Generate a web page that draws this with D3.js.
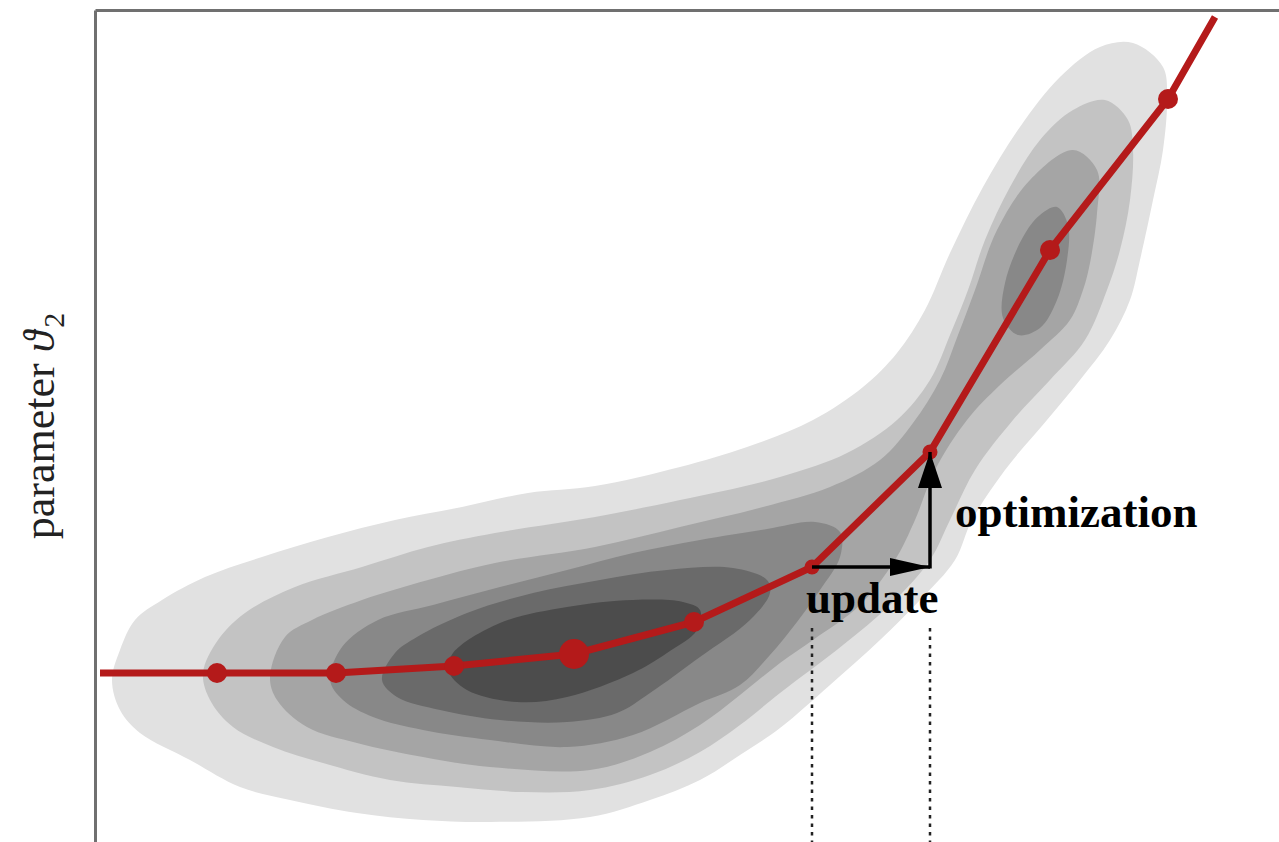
<!DOCTYPE html>
<html>
<head>
<meta charset="utf-8">
<script src="https://cdn.jsdelivr.net/npm/d3@7"></script>
<style>
  body { margin: 0; background: #fff; }
  svg { display: block; }
</style>
</head>
<body>
<div id="chart"></div>
<script>
// canvas size
const width = 1279;
const height = 842;

// parameter ranges visible in the picture
const theta1Range = [0, 11.84];
const theta2Range = [0, 8.32];

// filled contour outlines, [theta1, theta2], outer level first
const level1Outline = [
  [0.17, 1.62], [0.25, 1.92], [0.40, 2.22], [0.67, 2.42], [1.10, 2.65], [1.67, 2.85],
  [2.33, 3.05], [3.00, 3.22], [3.67, 3.35], [4.33, 3.49], [5.00, 3.56], [5.85, 3.75],
  [6.52, 3.95], [7.18, 4.22], [7.68, 4.55], [8.02, 4.89], [8.30, 5.32], [8.55, 5.89],
  [8.88, 6.55], [9.25, 7.15], [9.65, 7.65], [10.05, 7.95], [10.38, 7.99], [10.68, 7.75],
  [10.72, 7.42], [10.68, 6.92], [10.58, 6.42], [10.45, 5.82], [10.35, 5.42], [10.15, 5.02],
  [9.85, 4.62], [9.52, 4.22], [9.10, 3.72], [8.77, 3.22], [8.60, 2.82], [8.25, 2.42],
  [7.85, 2.02], [7.35, 1.57], [6.85, 1.14], [6.45, 0.87], [6.05, 0.62], [5.55, 0.42],
  [4.95, 0.25], [3.95, 0.20], [3.28, 0.22], [2.62, 0.29], [1.95, 0.42], [1.45, 0.55],
  [0.95, 0.82], [0.45, 1.09], [0.25, 1.32]
];
const level2Outline = [
  [1.08, 1.69], [1.23, 2.02], [1.50, 2.29], [2.00, 2.55], [2.67, 2.75], [3.33, 2.95],
  [4.00, 3.09], [5.00, 3.25], [5.85, 3.42], [6.85, 3.65], [7.52, 3.89], [8.02, 4.22],
  [8.35, 4.62], [8.55, 5.07], [8.73, 5.52], [8.90, 6.02], [9.15, 6.55], [9.45, 7.02],
  [9.78, 7.32], [10.10, 7.42], [10.33, 7.22], [10.38, 6.92], [10.35, 6.42], [10.25, 5.92],
  [10.12, 5.52], [9.90, 5.02], [9.55, 4.62], [9.18, 4.22], [8.80, 3.72], [8.55, 3.22],
  [8.35, 2.82], [7.95, 2.37], [7.48, 1.97], [6.85, 1.49], [6.45, 1.17], [6.05, 0.90],
  [5.55, 0.67], [4.95, 0.52], [4.28, 0.50], [3.62, 0.55], [2.95, 0.62], [2.28, 0.79],
  [1.78, 0.95], [1.38, 1.15], [1.15, 1.42]
];
const level3Outline = [
  [1.75, 1.65], [1.90, 2.05], [2.17, 2.22], [2.67, 2.42], [3.33, 2.62], [4.00, 2.79],
  [5.00, 2.95], [5.85, 3.15], [6.68, 3.35], [7.35, 3.55], [7.85, 3.82], [8.18, 4.19],
  [8.45, 4.62], [8.63, 5.07], [8.80, 5.52], [9.02, 6.12], [9.35, 6.62], [9.78, 6.92],
  [10.02, 6.72], [10.02, 6.29], [9.95, 5.79], [9.88, 5.52], [9.75, 5.22], [9.45, 4.92],
  [9.05, 4.57], [8.72, 4.22], [8.40, 3.72], [8.20, 3.22], [8.00, 2.82], [7.65, 2.37],
  [7.18, 2.02], [6.85, 1.79], [6.45, 1.47], [6.05, 1.17], [5.55, 0.90], [4.95, 0.72],
  [3.95, 0.75], [3.28, 0.85], [2.62, 0.99], [2.12, 1.15], [1.82, 1.42]
];
const level4Outline = [
  [2.35, 1.62], [2.47, 1.95], [2.83, 2.22], [3.38, 2.37], [4.05, 2.55], [4.72, 2.72],
  [5.38, 2.89], [6.05, 3.02], [6.72, 3.13], [7.20, 3.20], [7.45, 3.10], [7.45, 2.85],
  [7.25, 2.52], [7.02, 2.20], [6.75, 1.87], [6.45, 1.57], [6.05, 1.39],
  [5.38, 1.07], [4.72, 0.95], [3.95, 1.02], [3.28, 1.12], [2.78, 1.25], [2.48, 1.42]
];
const level4Island = [
  [9.62, 6.35], [9.73, 6.17], [9.72, 5.82], [9.62, 5.42], [9.45, 5.14],
  [9.23, 5.07], [9.08, 5.24], [9.10, 5.59], [9.28, 6.05], [9.45, 6.27]
];
const level5Outline = [
  [2.87, 1.62], [3.00, 1.89], [3.22, 2.05], [3.72, 2.29], [4.38, 2.49], [5.05, 2.62],
  [5.72, 2.72], [6.38, 2.74], [6.72, 2.62], [6.75, 2.49], [6.55, 2.22], [6.05, 1.85],
  [5.55, 1.49], [5.22, 1.29], [4.72, 1.20], [4.05, 1.22], [3.45, 1.32], [3.02, 1.45]
];
const level6Outline = [
  [3.53, 1.72], [3.58, 1.89], [4.05, 2.19], [4.72, 2.35], [5.38, 2.42], [5.88, 2.40],
  [6.05, 2.32], [6.02, 2.12], [5.72, 1.89], [5.38, 1.69], [4.72, 1.45], [4.22, 1.40],
  [3.72, 1.52]
];

// estimation path: iterates, plus where the line enters and leaves
const pathStart = [0.05, 1.69];
const iterTheta1 = [1.22, 2.41, 3.59, 4.79, 5.99, 7.17, 8.35, 9.55, 10.73];
const iterTheta2 = [1.69, 1.69, 1.76, 1.88, 2.20, 2.75, 3.90, 5.92, 7.43];
const pathEnd = [11.20, 8.25];
const currentIter = 3;      // the enlarged iterate
const updateFrom = 5;       // iterate where the update/optimization step starts
const updateTo = 6;         // iterate reached after optimization
const guideTop = 2.14;      // theta2 where the dotted guides begin

const labels = { y: "parameter ", ySymbol: "ϑ", ySub: "2", update: "update", optimization: "optimization" };

const levels = [
  { level: 1, rings: [level1Outline] },
  { level: 2, rings: [level2Outline] },
  { level: 3, rings: [level3Outline] },
  { level: 4, rings: [level4Outline, level4Island] },
  { level: 5, rings: [level5Outline] },
  { level: 6, rings: [level6Outline] }
];

const x = d3.scaleLinear().domain(theta1Range).range([95, width]);
const y = d3.scaleLinear().domain(theta2Range).range([height, 10]);
const grey = d3.scaleLinear().domain([1, 6]).range(["#e1e1e1", "#4c4c4c"]);

const svg = d3.select("#chart").append("svg")
  .attr("width", width)
  .attr("height", height);

const defs = svg.append("defs");
defs.append("marker")
  .attr("id", "head-h")
  .attr("markerUnits", "userSpaceOnUse")
  .attr("viewBox", "0 -10 40 20")
  .attr("refX", 40).attr("refY", 0)
  .attr("markerWidth", 40).attr("markerHeight", 20)
  .attr("orient", "auto")
  .append("path").attr("d", "M0,-9L40,0L0,9Z").attr("fill", "#000");
defs.append("marker")
  .attr("id", "head-v")
  .attr("markerUnits", "userSpaceOnUse")
  .attr("viewBox", "0 -13 36 26")
  .attr("refX", 36).attr("refY", 0)
  .attr("markerWidth", 36).attr("markerHeight", 26)
  .attr("orient", "auto")
  .append("path").attr("d", "M0,-12L36,0L0,12Z").attr("fill", "#000");

// contours
const ring = d3.line()
  .x(d => x(d[0]))
  .y(d => y(d[1]))
  .curve(d3.curveCatmullRomClosed.alpha(0.5));

svg.append("g").selectAll("g")
  .data(levels)
  .join("g")
  .attr("fill", d => grey(d.level))
  .selectAll("path")
  .data(d => d.rings)
  .join("path")
  .attr("d", ring);

// axes (frame lines only)
svg.append("g")
  .attr("transform", `translate(${x(theta1Range[0])},0)`)
  .call(d3.axisLeft(y).tickValues([]).tickSizeOuter(0))
  .select(".domain").attr("stroke", "#707070").attr("stroke-width", 3);
svg.append("g")
  .attr("transform", `translate(0,${y(theta2Range[1])})`)
  .call(d3.axisTop(x).tickValues([]).tickSizeOuter(0))
  .select(".domain").attr("stroke", "#707070").attr("stroke-width", 3);

// dotted guides
const guideXs = [iterTheta1[updateFrom], iterTheta1[updateTo]];
svg.append("g").selectAll("line")
  .data(guideXs)
  .join("line")
  .attr("x1", d => x(d)).attr("x2", d => x(d))
  .attr("y1", y(guideTop)).attr("y2", y(0))
  .attr("stroke", "#222")
  .attr("stroke-width", 2.5)
  .attr("stroke-dasharray", "3.5,5");

// estimation path
const iterates = iterTheta1.map((t, i) => [t, iterTheta2[i]]);
const track = [pathStart, ...iterates, pathEnd];
svg.append("path")
  .datum(track)
  .attr("fill", "none")
  .attr("stroke", "#b41a1a")
  .attr("stroke-width", 7)
  .attr("stroke-linejoin", "round")
  .attr("d", d3.line().x(d => x(d[0])).y(d => y(d[1])));

svg.append("g").selectAll("circle")
  .data(iterates)
  .join("circle")
  .attr("cx", d => x(d[0]))
  .attr("cy", d => y(d[1]))
  .attr("r", (d, i) => i === currentIter ? 15 : (i === updateFrom || i === updateTo) ? 7.5 : 10)
  .attr("fill", "#b41a1a");

// update / optimization arrows
const p0 = iterates[updateFrom], p1 = iterates[updateTo];
const arrows = svg.append("g").attr("stroke", "#000").attr("stroke-width", 3.5);
arrows.append("line")
  .attr("x1", x(p0[0])).attr("y1", y(p0[1]))
  .attr("x2", x(p1[0])).attr("y2", y(p0[1]))
  .attr("marker-end", "url(#head-h)");
arrows.append("line")
  .attr("x1", x(p1[0])).attr("y1", y(p0[1]) + 1.5)
  .attr("x2", x(p1[0])).attr("y2", y(p1[1]))
  .attr("marker-end", "url(#head-v)");

const serif = "'Liberation Serif', 'Times New Roman', serif";
svg.append("text")
  .attr("x", x(p0[0]) - 6)
  .attr("y", y(p0[1]) + 46)
  .attr("font-family", serif)
  .attr("font-weight", "bold")
  .attr("font-size", 45)
  .text(labels.update);
svg.append("text")
  .attr("x", x(p1[0]) + 25)
  .attr("y", (y(p0[1]) + y(p1[1])) / 2 + 17)
  .attr("font-family", serif)
  .attr("font-weight", "bold")
  .attr("font-size", 45)
  .text(labels.optimization);

// y label
const yl = svg.append("text")
  .attr("transform", `translate(54,${(y(theta2Range[0]) + y(theta2Range[1])) / 2}) rotate(-90)`)
  .attr("text-anchor", "middle")
  .attr("font-family", serif)
  .attr("font-size", 44)
  .attr("fill", "#222");
yl.append("tspan").text(labels.y);
yl.append("tspan").attr("font-style", "italic").text(labels.ySymbol);
yl.append("tspan").attr("font-size", 30).attr("dy", 10).attr("dx", 3).text(labels.ySub);
</script>
</body>
</html>
